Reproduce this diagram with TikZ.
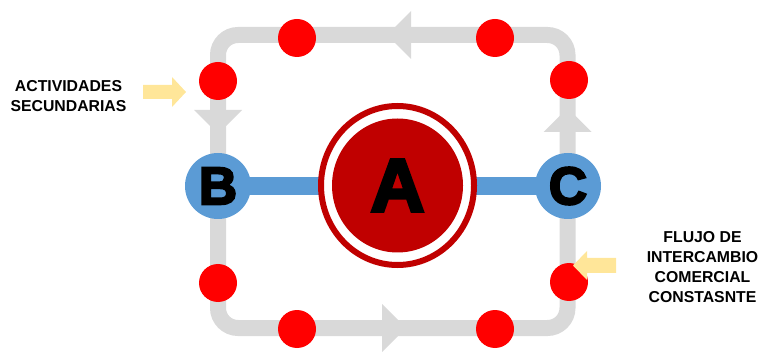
\documentclass[tikz,border=0pt]{standalone}
\usepackage{fontspec}
\setmainfont{Liberation Sans}
\newfontfamily\heavyfont[FakeBold=4]{Liberation Sans Bold}
\usetikzlibrary{backgrounds,shapes.geometric}
\definecolor{pathgray}{HTML}{D9D9D9}
\definecolor{dotred}{HTML}{FF0000}
\definecolor{darkred}{HTML}{C00000}
\definecolor{nodeblue}{HTML}{5B9BD5}
\definecolor{pointeryellow}{HTML}{FFE699}
\begin{document}
\begin{tikzpicture}[x=1pt,y=-1pt,
  dot/.style={circle,fill=dotred,minimum size=38pt,inner sep=0pt},
  endnode/.style={circle,fill=nodeblue,minimum size=66pt,inner sep=0pt,
    font=\heavyfont\fontsize{53}{53}\selectfont},
  flowhead/.style={fill=pathgray},
  pointer/.style={fill=pointeryellow},
  note/.style={font=\bfseries\fontsize{15.8}{20}\selectfont,align=center,inner sep=0pt}]
\useasboundingbox (0,0) rectangle (762,352);

% red dots on the loop
\node[dot] (d1) at (218,81) {};
\node[dot] (d2) at (297,38) {};
\node[dot] (d3) at (495,38) {};
\node[dot] (d4) at (569,80) {};
\node[dot] (d5) at (218,283) {};
\node[dot] (d6) at (297,329) {};
\node[dot] (d7) at (495,329) {};
\node[dot] (d8) at (569,282) {};

% end nodes
\node[endnode] (B) at (218,186) {B};
\node[endnode] (C) at (568,186) {C};

% central node
\node[ellipse,draw=darkred,fill=white,line width=6pt,minimum width=153pt,minimum height=159pt,inner sep=0pt] (ring) at (397.5,185.5) {};
\node[ellipse,fill=darkred,minimum width=131pt,minimum height=134pt,inner sep=0pt,
  font=\heavyfont\fontsize{75}{75}\selectfont] (A) at (397.5,185.5) {A};

\begin{scope}[on background layer]
  \draw[pathgray,line width=16pt,rounded corners=20pt] (218,35) rectangle (567.5,328);
  \fill[flowhead] (387,35) -- (411,11) -- (411,59) -- cycle;
  \fill[flowhead] (218,134) -- (194,110) -- (242,110) -- cycle;
  \fill[flowhead] (567.5,108) -- (543.5,132) -- (591.5,132) -- cycle;
  \fill[flowhead] (406,328) -- (382,304) -- (382,352) -- cycle;
  \draw[nodeblue,line width=18pt] (B.center) -- (C.center);
\end{scope}

% labels
\node[note] (sec) at (68.5,96) {ACTIVIDADES\\SECUNDARIAS};
\node[note] (flow) at (702.5,267.5) {FLUJO DE\\INTERCAMBIO\\COMERCIAL\\CONSTASNTE};

% yellow pointers
\fill[pointer] (143,85) -- (172,85) -- (172,77) -- (186,92) -- (172,107) -- (172,99) -- (143,99) -- cycle;
\fill[pointer] (616,258) -- (587,258) -- (587,251) -- (573,265.5) -- (587,280) -- (587,273) -- (616,273) -- cycle;
\end{tikzpicture}
\end{document}
